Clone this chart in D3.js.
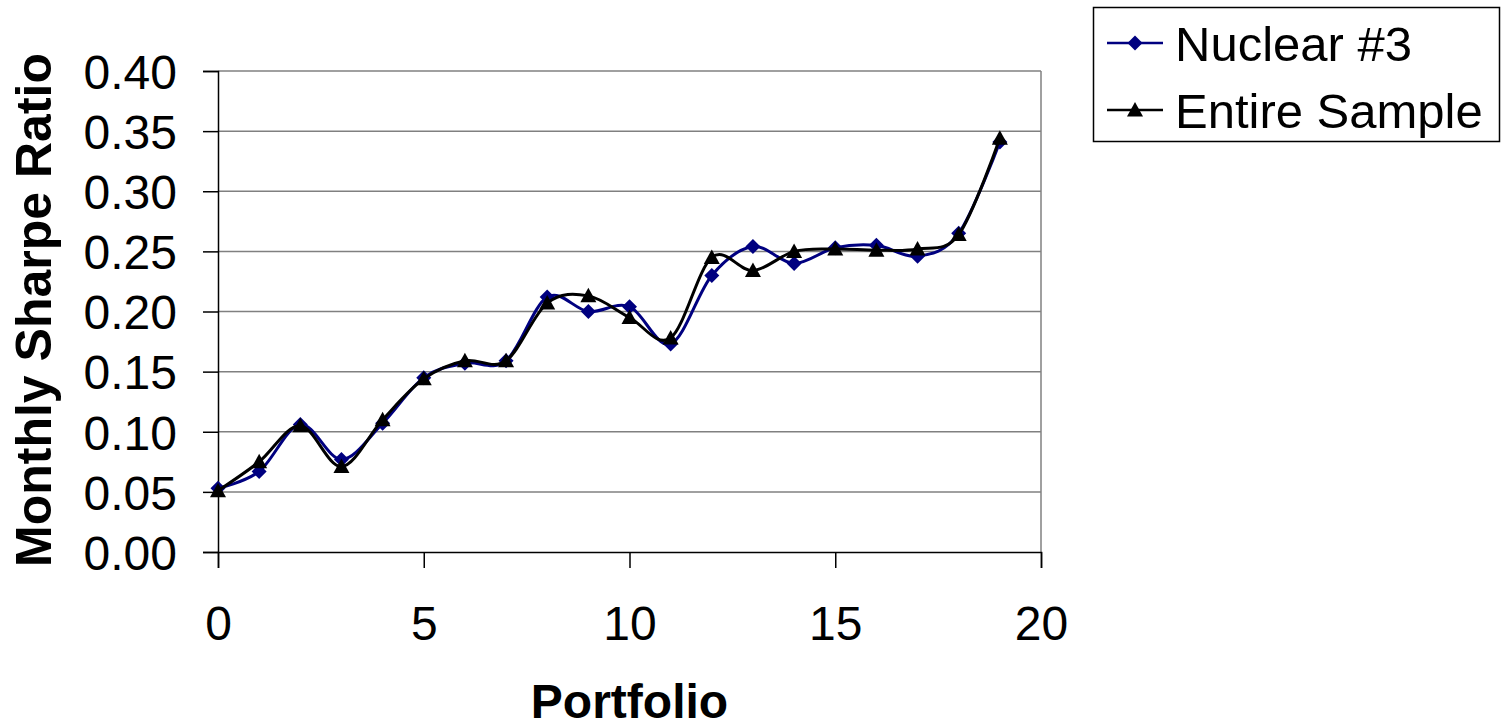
<!DOCTYPE html>
<html>
<head>
<meta charset="utf-8">
<script src="https://cdn.jsdelivr.net/npm/d3@7"></script>
<style>
html,body{margin:0;padding:0;background:#fff;}
svg{display:block;font-family:Arial,"Liberation Sans",sans-serif;}
</style>
</head>
<body>
<svg id="chart" width="1502" height="727"></svg>
<script>
const portfolios = [0,1,2,3,4,5,6,7,8,9,10,11,12,13,14,15,16,17,18,19];
const nuclear3 = [0.053,0.067,0.106,0.077,0.107,0.145,0.157,0.159,0.212,0.200,0.204,0.173,0.230,0.254,0.240,0.253,0.255,0.246,0.265,0.341];
const entireSample = [0.051,0.075,0.105,0.071,0.110,0.144,0.159,0.159,0.207,0.213,0.195,0.178,0.245,0.234,0.250,0.252,0.251,0.252,0.264,0.344];
const seriesNames = ["Nuclear #3","Entire Sample"];
const xTicks = [0,5,10,15,20];
const yTicks = [0,0.05,0.10,0.15,0.20,0.25,0.30,0.35,0.40];
const xTitle = "Portfolio";
const yTitle = "Monthly Sharpe Ratio";

const svg = d3.select("#chart");
const L = 218, R = 1041, T = 71, B = 552;
const x = d3.scaleLinear().domain([0,20]).range([L,R]);
const y = d3.scaleLinear().domain([0,0.40]).range([B,T]);

// gridlines
svg.append("g").selectAll("line").data(yTicks.filter(d=>d>0)).join("line")
  .attr("x1",L).attr("x2",R).attr("y1",d=>y(d)).attr("y2",d=>y(d))
  .attr("stroke","#808080").attr("stroke-width",1.5);
// right border
svg.append("line").attr("x1",R).attr("x2",R).attr("y1",T).attr("y2",B)
  .attr("stroke","#808080").attr("stroke-width",1.5);

// y axis
const yAxis = svg.append("g").attr("transform",`translate(${L},0)`)
  .call(d3.axisLeft(y).tickValues(yTicks).tickFormat(d3.format(".2f")).tickSize(15).tickPadding(26));
yAxis.select(".domain").attr("stroke","#000").attr("stroke-width",1.5);
yAxis.selectAll(".tick line").attr("stroke","#000").attr("stroke-width",1.5);
yAxis.selectAll("text").attr("font-size",48).attr("fill","#000").attr("font-family","Arial,'Liberation Sans',sans-serif").attr("dy","0.36em");

// x axis
const xAxis = svg.append("g").attr("transform",`translate(0,${B})`)
  .call(d3.axisBottom(x).tickValues(xTicks).tickFormat(d3.format("d")).tickSize(16).tickPadding(38));
xAxis.select(".domain").attr("stroke","#000").attr("stroke-width",1.5);
xAxis.selectAll(".tick line").attr("stroke","#000").attr("stroke-width",1.5);
xAxis.selectAll("text").attr("font-size",48).attr("fill","#000").attr("font-family","Arial,'Liberation Sans',sans-serif");

// titles
svg.append("text").attr("x",(L+R)/2).attr("y",718).attr("text-anchor","middle")
  .attr("font-size",48).attr("font-weight","bold").text(xTitle);
svg.append("text").attr("transform",`translate(51,310) rotate(-90)`).attr("text-anchor","middle")
  .attr("font-size",50).attr("font-weight","bold").text(yTitle);

const line = d3.line().x((d,i)=>x(portfolios[i])).y(d=>y(d)).curve(d3.curveCardinal.tension(0));

const colors = ["#000080","#000000"];
const data = [nuclear3, entireSample];
const diamondPath = "M0,-7.5L7.5,0L0,7.5L-7.5,0Z";
const trianglePath = "M0,-8L8,6.5L-8,6.5Z";
const syms = [diamondPath, trianglePath];

data.forEach((vals,k)=>{
  svg.append("path").datum(vals).attr("d",line).attr("fill","none")
    .attr("stroke",colors[k]).attr("stroke-width",3);
  svg.append("g").selectAll("path").data(vals).join("path")
    .attr("d",syms[k]).attr("transform",(d,i)=>`translate(${x(portfolios[i])},${y(d)})`)
    .attr("fill",colors[k]);
});

// legend
const lg = svg.append("g");
lg.append("rect").attr("x",1093.5).attr("y",7.5).attr("width",406).attr("height",134)
  .attr("fill","#fff").attr("stroke","#000").attr("stroke-width",1.5);
const ly = [43,110];
seriesNames.forEach((n,k)=>{
  lg.append("line").attr("x1",1107).attr("x2",1163).attr("y1",ly[k]).attr("y2",ly[k])
    .attr("stroke",colors[k]).attr("stroke-width",2.5);
  lg.append("path").attr("d",syms[k]).attr("transform",`translate(1135,${ly[k]})`).attr("fill",colors[k]);
  lg.append("text").attr("x",1175).attr("y",ly[k]+18).attr("font-size",49).attr("fill","#000").text(n);
});
</script>
</body>
</html>
